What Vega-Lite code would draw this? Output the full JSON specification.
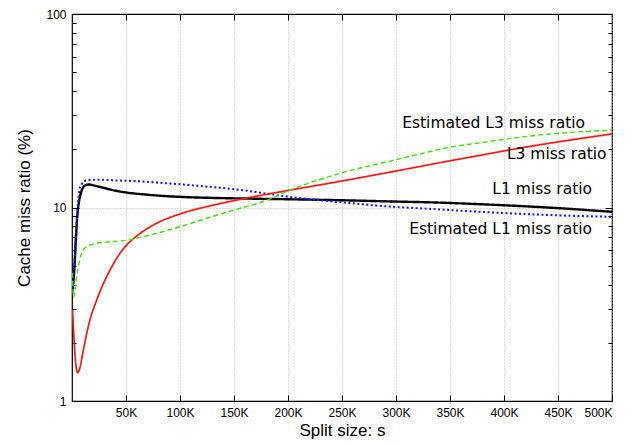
{
  "$schema": "https://vega.github.io/schema/vega-lite/v6.json",
  "width": 540,
  "height": 387,
  "autosize": {"type": "none"},
  "padding": {"left": 72, "top": 14, "right": 23, "bottom": 44},
  "background": "white",
  "config": {
    "view": {"stroke": "black", "strokeWidth": 1.2},
    "axis": {"labelFont": "Liberation Sans", "titleFont": "Liberation Sans", "labelColor": "black", "titleColor": "black", "titleFontWeight": "normal", "domain": false, "tickColor": "black"}
  },
  "resolve": {"axis": {"x": "independent", "y": "independent"}},
  "datasets": {
    "curves": [
      {"s": 500, "v": 3.66, "series": "L1 miss ratio"},
      {"s": 2100, "v": 4.75, "series": "L1 miss ratio"},
      {"s": 3700, "v": 7.07, "series": "L1 miss ratio"},
      {"s": 5000, "v": 9.2, "series": "L1 miss ratio"},
      {"s": 6200, "v": 10.5, "series": "L1 miss ratio"},
      {"s": 8100, "v": 11.8, "series": "L1 miss ratio"},
      {"s": 9900, "v": 12.6, "series": "L1 miss ratio"},
      {"s": 12000, "v": 13.0, "series": "L1 miss ratio"},
      {"s": 15500, "v": 13.15, "series": "L1 miss ratio"},
      {"s": 20000, "v": 13.0, "series": "L1 miss ratio"},
      {"s": 25300, "v": 12.8, "series": "L1 miss ratio"},
      {"s": 40700, "v": 12.2, "series": "L1 miss ratio"},
      {"s": 50600, "v": 11.95, "series": "L1 miss ratio"},
      {"s": 69200, "v": 11.65, "series": "L1 miss ratio"},
      {"s": 90700, "v": 11.42, "series": "L1 miss ratio"},
      {"s": 100000, "v": 11.35, "series": "L1 miss ratio"},
      {"s": 150000, "v": 11.15, "series": "L1 miss ratio"},
      {"s": 192600, "v": 11.05, "series": "L1 miss ratio"},
      {"s": 250000, "v": 10.9, "series": "L1 miss ratio"},
      {"s": 294400, "v": 10.75, "series": "L1 miss ratio"},
      {"s": 340000, "v": 10.6, "series": "L1 miss ratio"},
      {"s": 377800, "v": 10.4, "series": "L1 miss ratio"},
      {"s": 440000, "v": 10.0, "series": "L1 miss ratio"},
      {"s": 500000, "v": 9.5, "series": "L1 miss ratio"},

      {"s": 500, "v": 3.66, "series": "Estimated L1 miss ratio"},
      {"s": 2100, "v": 4.9, "series": "Estimated L1 miss ratio"},
      {"s": 3700, "v": 7.3, "series": "Estimated L1 miss ratio"},
      {"s": 5600, "v": 10.5, "series": "Estimated L1 miss ratio"},
      {"s": 6800, "v": 12.3, "series": "Estimated L1 miss ratio"},
      {"s": 9000, "v": 13.2, "series": "Estimated L1 miss ratio"},
      {"s": 11400, "v": 13.7, "series": "Estimated L1 miss ratio"},
      {"s": 15000, "v": 13.85, "series": "Estimated L1 miss ratio"},
      {"s": 19200, "v": 13.9, "series": "Estimated L1 miss ratio"},
      {"s": 30000, "v": 13.9, "series": "Estimated L1 miss ratio"},
      {"s": 40700, "v": 13.8, "series": "Estimated L1 miss ratio"},
      {"s": 50600, "v": 13.75, "series": "Estimated L1 miss ratio"},
      {"s": 90700, "v": 13.3, "series": "Estimated L1 miss ratio"},
      {"s": 120000, "v": 12.9, "series": "Estimated L1 miss ratio"},
      {"s": 152500, "v": 12.4, "series": "Estimated L1 miss ratio"},
      {"s": 198800, "v": 11.4, "series": "Estimated L1 miss ratio"},
      {"s": 229600, "v": 10.9, "series": "Estimated L1 miss ratio"},
      {"s": 260500, "v": 10.5, "series": "Estimated L1 miss ratio"},
      {"s": 285000, "v": 10.2, "series": "Estimated L1 miss ratio"},
      {"s": 330000, "v": 9.85, "series": "Estimated L1 miss ratio"},
      {"s": 377800, "v": 9.5, "series": "Estimated L1 miss ratio"},
      {"s": 440000, "v": 9.15, "series": "Estimated L1 miss ratio"},
      {"s": 500000, "v": 8.95, "series": "Estimated L1 miss ratio"},

      {"s": 500, "v": 2.95, "series": "L3 miss ratio"},
      {"s": 2100, "v": 1.99, "series": "L3 miss ratio"},
      {"s": 3500, "v": 1.55, "series": "L3 miss ratio"},
      {"s": 5300, "v": 1.4, "series": "L3 miss ratio"},
      {"s": 7500, "v": 1.5, "series": "L3 miss ratio"},
      {"s": 9900, "v": 1.76, "series": "L3 miss ratio"},
      {"s": 16000, "v": 2.55, "series": "L3 miss ratio"},
      {"s": 22900, "v": 3.33, "series": "L3 miss ratio"},
      {"s": 35200, "v": 4.75, "series": "L3 miss ratio"},
      {"s": 50000, "v": 6.35, "series": "L3 miss ratio"},
      {"s": 58300, "v": 7.0, "series": "L3 miss ratio"},
      {"s": 78400, "v": 8.29, "series": "L3 miss ratio"},
      {"s": 100000, "v": 9.26, "series": "L3 miss ratio"},
      {"s": 124700, "v": 10.1, "series": "L3 miss ratio"},
      {"s": 150000, "v": 10.85, "series": "L3 miss ratio"},
      {"s": 201900, "v": 12.3, "series": "L3 miss ratio"},
      {"s": 240000, "v": 13.4, "series": "L3 miss ratio"},
      {"s": 299000, "v": 15.4, "series": "L3 miss ratio"},
      {"s": 346800, "v": 17.3, "series": "L3 miss ratio"},
      {"s": 377800, "v": 18.6, "series": "L3 miss ratio"},
      {"s": 408600, "v": 20.0, "series": "L3 miss ratio"},
      {"s": 500000, "v": 24.0, "series": "L3 miss ratio"},

      {"s": 300, "v": 4.6, "series": "Estimated L3 miss ratio"},
      {"s": 1500, "v": 3.45, "series": "Estimated L3 miss ratio"},
      {"s": 2500, "v": 3.6, "series": "Estimated L3 miss ratio"},
      {"s": 4000, "v": 4.3, "series": "Estimated L3 miss ratio"},
      {"s": 5300, "v": 4.75, "series": "Estimated L3 miss ratio"},
      {"s": 8300, "v": 5.68, "series": "Estimated L3 miss ratio"},
      {"s": 13000, "v": 6.25, "series": "Estimated L3 miss ratio"},
      {"s": 22200, "v": 6.52, "series": "Estimated L3 miss ratio"},
      {"s": 31500, "v": 6.62, "series": "Estimated L3 miss ratio"},
      {"s": 50000, "v": 6.77, "series": "Estimated L3 miss ratio"},
      {"s": 78400, "v": 7.36, "series": "Estimated L3 miss ratio"},
      {"s": 100000, "v": 7.95, "series": "Estimated L3 miss ratio"},
      {"s": 124700, "v": 8.8, "series": "Estimated L3 miss ratio"},
      {"s": 150000, "v": 9.7, "series": "Estimated L3 miss ratio"},
      {"s": 180300, "v": 10.9, "series": "Estimated L3 miss ratio"},
      {"s": 201900, "v": 12.3, "series": "Estimated L3 miss ratio"},
      {"s": 248000, "v": 15.0, "series": "Estimated L3 miss ratio"},
      {"s": 299000, "v": 17.6, "series": "Estimated L3 miss ratio"},
      {"s": 322000, "v": 18.9, "series": "Estimated L3 miss ratio"},
      {"s": 350000, "v": 20.5, "series": "Estimated L3 miss ratio"},
      {"s": 377800, "v": 21.6, "series": "Estimated L3 miss ratio"},
      {"s": 439500, "v": 23.9, "series": "Estimated L3 miss ratio"},
      {"s": 500000, "v": 25.1, "series": "Estimated L3 miss ratio"}
    ],
    "labels": [
      {"s": 475000, "v": 27.4, "label": "Estimated L3 miss ratio"},
      {"s": 495000, "v": 18.9, "label": "L3 miss ratio"},
      {"s": 481500, "v": 12.4, "label": "L1 miss ratio"},
      {"s": 481500, "v": 7.75, "label": "Estimated L1 miss ratio"}
    ]
  },
  "layer": [
    {
      "data": {"name": "curves"},
      "mark": {"type": "line", "clip": true, "interpolate": "monotone"},
      "encoding": {
        "x": {
          "field": "s", "type": "quantitative",
          "scale": {"domain": [0, 500000], "nice": false, "zero": false},
          "axis": {
            "orient": "bottom",
            "title": "Split size: s", "titleFontSize": 17, "titlePadding": 4,
            "values": [50000, 100000, 150000, 200000, 250000, 300000, 350000, 400000, 450000, 500000],
            "labelExpr": "(datum.value / 1000) + 'K'",
            "labelFontSize": 12, "labelPadding": 12,
            "tickSize": -6, "tickWidth": 1,
            "grid": true, "gridDash": [1, 2], "gridColor": "#aaaaaa", "gridWidth": 0.8
          }
        },
        "y": {
          "field": "v", "type": "quantitative",
          "scale": {"type": "log", "domain": [1, 100], "nice": false},
          "axis": {
            "orient": "left",
            "title": "Cache miss ratio (%)", "titleFontSize": 17, "titlePadding": 12,
            "values": [1, 2, 3, 4, 5, 6, 7, 8, 9, 10, 20, 30, 40, 50, 60, 70, 80, 90, 100],
            "labelExpr": "datum.value == 1 || datum.value == 10 || datum.value == 100 ? '' + datum.value : ''",
            "labelFontSize": 12, "labelPadding": 13,
            "tickSize": {"condition": {"test": "datum.value == 1 || datum.value == 10 || datum.value == 100", "value": -7}, "value": -4},
            "grid": true, "gridDash": [1, 2], "gridColor": "#aaaaaa", "gridWidth": 0.8,
            "gridOpacity": {"condition": {"test": "datum.value == 10", "value": 1}, "value": 0}
          }
        },
        "color": {
          "field": "series", "type": "nominal", "legend": null,
          "scale": {"domain": ["L1 miss ratio", "Estimated L1 miss ratio", "L3 miss ratio", "Estimated L3 miss ratio"], "range": ["#000000", "#1a1aff", "#ff1a1a", "#44dd11"]}
        },
        "strokeDash": {
          "field": "series", "type": "nominal", "legend": null,
          "scale": {"domain": ["L1 miss ratio", "Estimated L1 miss ratio", "L3 miss ratio", "Estimated L3 miss ratio"], "range": [[1, 0], [2, 2.5], [1, 0], [5, 3]]}
        },
        "strokeWidth": {
          "field": "series", "type": "nominal", "legend": null,
          "scale": {"domain": ["L1 miss ratio", "Estimated L1 miss ratio", "L3 miss ratio", "Estimated L3 miss ratio"], "range": [2.4, 1.4, 1.2, 1.4]}
        }
      }
    },
    {
      "data": {"name": "labels"},
      "mark": {"type": "text", "align": "right", "baseline": "middle", "font": "DejaVu Sans", "fontSize": 15.5, "color": "black"},
      "encoding": {
        "x": {"field": "s", "type": "quantitative", "axis": {
            "orient": "top", "title": null, "labels": false, "grid": false,
            "values": [50000, 100000, 150000, 200000, 250000, 300000, 350000, 400000, 450000],
            "tickSize": -6, "tickWidth": 1}},
        "y": {"field": "v", "type": "quantitative", "axis": {
            "orient": "right", "title": null, "labels": false, "grid": false,
            "values": [2, 3, 4, 5, 6, 7, 8, 9, 10, 20, 30, 40, 50, 60, 70, 80, 90],
            "tickSize": {"condition": {"test": "datum.value == 10", "value": -7}, "value": -4}}},
        "text": {"field": "label"}
      }
    }
  ]
}
